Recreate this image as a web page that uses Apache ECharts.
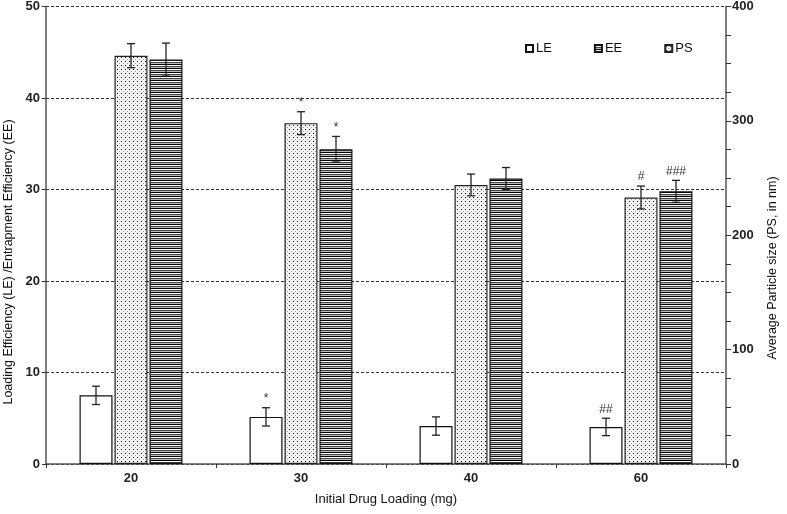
<!DOCTYPE html>
<html><head><meta charset="utf-8">
<script src="https://cdn.jsdelivr.net/npm/echarts@6/dist/echarts.min.js"></script>
<style>html,body{margin:0;padding:0;background:#fff}#c{width:787px;height:514px}</style>
</head><body><div id="c"></div>
<script>
const categories = ['20', '30', '40', '60'];
const leValues = [7.5, 5.15, 4.15, 4.05];
const leErrors = [1.0, 1.0, 1.0, 0.95];
const leMarks = ['', '*', '', '##'];
const psValues = [357, 298, 244, 233];
const psErrors = [10.5, 10, 9.5, 10];
const psMarks = ['', '*', '', '#'];
const eeValues = [44.2, 34.4, 31.2, 29.8];
const eeErrors = [1.8, 1.4, 1.2, 1.2];
const eeMarks = ['', '*', '', '###'];
const leftTicks = [0, 10, 20, 30, 40, 50];
const rightTicks = [0, 100, 200, 300, 400];

function makePattern(w, h, draw) {
  const cv = document.createElement('canvas');
  cv.width = w; cv.height = h;
  const ctx = cv.getContext('2d');
  draw(ctx);
  return { image: cv, repeat: 'repeat' };
}
const dotPattern = makePattern(4, 4, ctx => {
  ctx.fillStyle = '#f4f4f4'; ctx.fillRect(0, 0, 4, 4);
  ctx.fillStyle = '#000'; ctx.fillRect(1, 1, 1, 1);
  ctx.fillStyle = '#9a9a9a'; ctx.fillRect(3, 3, 1, 1);
});
const stripePattern = makePattern(2, 4, ctx => {
  ctx.fillStyle = '#000'; ctx.fillRect(0, 0, 2, 1);
  ctx.fillStyle = '#fff'; ctx.fillRect(0, 1, 2, 1);
  ctx.fillStyle = '#444'; ctx.fillRect(0, 2, 2, 1);
  ctx.fillStyle = '#bbb'; ctx.fillRect(0, 3, 2, 1);
});

const FONT = 'Liberation Sans, Arial, sans-serif';
const BAR_W = 33, STEP = 35;

function errData(vals, errs, marks) {
  return vals.map((v, i) => [i, v, errs[i], marks[i]]);
}
function errSeries(name, vals, errs, marks, slot, yAxisIndex) {
  return {
    type: 'custom', name: name + ' err', yAxisIndex: yAxisIndex, z: 10,
    silent: true,
    data: errData(vals, errs, marks),
    renderItem: function (params, api) {
      const i = api.value(0), v = api.value(1), e = api.value(2);
      const mark = marks[i];
      const top = api.coord([i, v + e]);
      const bot = api.coord([i, v - e]);
      const x = top[0] + (slot - 1) * STEP;
      const cap = 4;
      const st = { stroke: '#222', lineWidth: 1.3 };
      const children = [
        { type: 'line', shape: { x1: x, y1: top[1], x2: x, y2: bot[1] }, style: st },
        { type: 'line', shape: { x1: x - cap, y1: top[1], x2: x + cap, y2: top[1] }, style: st },
        { type: 'line', shape: { x1: x - cap, y1: bot[1], x2: x + cap, y2: bot[1] }, style: st }
      ];
      if (mark) {
        children.push({ type: 'text', style: { text: mark, x: x, y: top[1] - 3, align: 'center', verticalAlign: 'bottom', fill: '#333', font: '12px ' + FONT } });
      }
      return { type: 'group', children: children };
    }
  };
}

const chart = echarts.init(document.getElementById('c'));
chart.setOption({
  animation: false,
  backgroundColor: '#fff',
  grid: { left: 46, right: 61, top: 5, bottom: 50 },
  legend: {
    data: ['LE', 'EE', 'PS'],
    top: 37, left: 520, itemWidth: 7, itemHeight: 7, itemGap: 42,
    textStyle: { fontFamily: FONT, fontSize: 13, color: '#111', padding: [0, 0, 0, -2] },
    icon: 'rect'
  },
  xAxis: {
    type: 'category', data: categories,
    name: 'Initial Drug Loading (mg)', nameLocation: 'middle', nameGap: 29,
    nameTextStyle: { fontFamily: FONT, fontSize: 13, color: '#111' },
    axisLine: { lineStyle: { color: '#555', width: 1.5 } },
    axisTick: { show: true, length: 4, lineStyle: { color: '#333' } },
    axisLabel: { fontFamily: FONT, fontSize: 13, fontWeight: 'bold', color: '#222', margin: 8 }
  },
  yAxis: [
    {
      type: 'value', min: 0, max: 50, interval: 10,
      axisLine: { show: true, lineStyle: { color: '#555', width: 1.5 } },
      axisTick: { show: true, length: 4, lineStyle: { color: '#333' } },
      axisLabel: { fontFamily: FONT, fontSize: 13, fontWeight: 'bold', color: '#222', margin: 6,
        formatter: v => leftTicks.includes(v) ? String(v) : '' },
      splitLine: { show: true, lineStyle: { color: '#333', type: [3, 2], width: 1 } }
    },
    {
      type: 'value', min: 0, max: 400, interval: 25, position: 'right',
      axisLine: { show: true, lineStyle: { color: '#555', width: 1.5 } },
      axisTick: { show: true, length: 5, inside: false, lineStyle: { color: '#333' } },
      axisLabel: { fontFamily: FONT, fontSize: 13, fontWeight: 'bold', color: '#222', margin: 6,
        formatter: v => rightTicks.includes(v) ? String(v) : '' },
      splitLine: { show: false }
    }
  ],
  graphic: [
    { id: 'lt', type: 'text', x: 2, y: 262, rotation: Math.PI / 2,
      style: { text: 'Loading Efficiency (LE) /Entrapment Efficiency (EE)', font: '12.5px ' + FONT, fill: '#111', align: 'center', verticalAlign: 'top' } },
    { id: 'rt', type: 'text', x: 766, y: 268, rotation: Math.PI / 2,
      style: { text: 'Average Particle size (PS, in nm)', font: '12.5px ' + FONT, fill: '#111', align: 'center', verticalAlign: 'top' } }
  ],
  series: [
    { name: 'LE', type: 'bar', yAxisIndex: 0, data: leValues, barWidth: BAR_W, barGap: '6%',
      itemStyle: { color: '#fff', borderColor: '#111', borderWidth: 1.2 } },
    { name: 'PS', type: 'bar', yAxisIndex: 1, data: psValues, barWidth: BAR_W, barGap: '6%',
      itemStyle: { color: dotPattern, borderColor: '#222', borderWidth: 1.2 } },
    { name: 'EE', type: 'bar', yAxisIndex: 0, data: eeValues, barWidth: BAR_W, barGap: '6%',
      itemStyle: { color: stripePattern, borderColor: '#111', borderWidth: 1.2 } },
    errSeries('LE', leValues, leErrors, leMarks, 0, 0),
    errSeries('PS', psValues, psErrors, psMarks, 1, 1),
    errSeries('EE', eeValues, eeErrors, eeMarks, 2, 0)
  ]
});
</script></body></html>
